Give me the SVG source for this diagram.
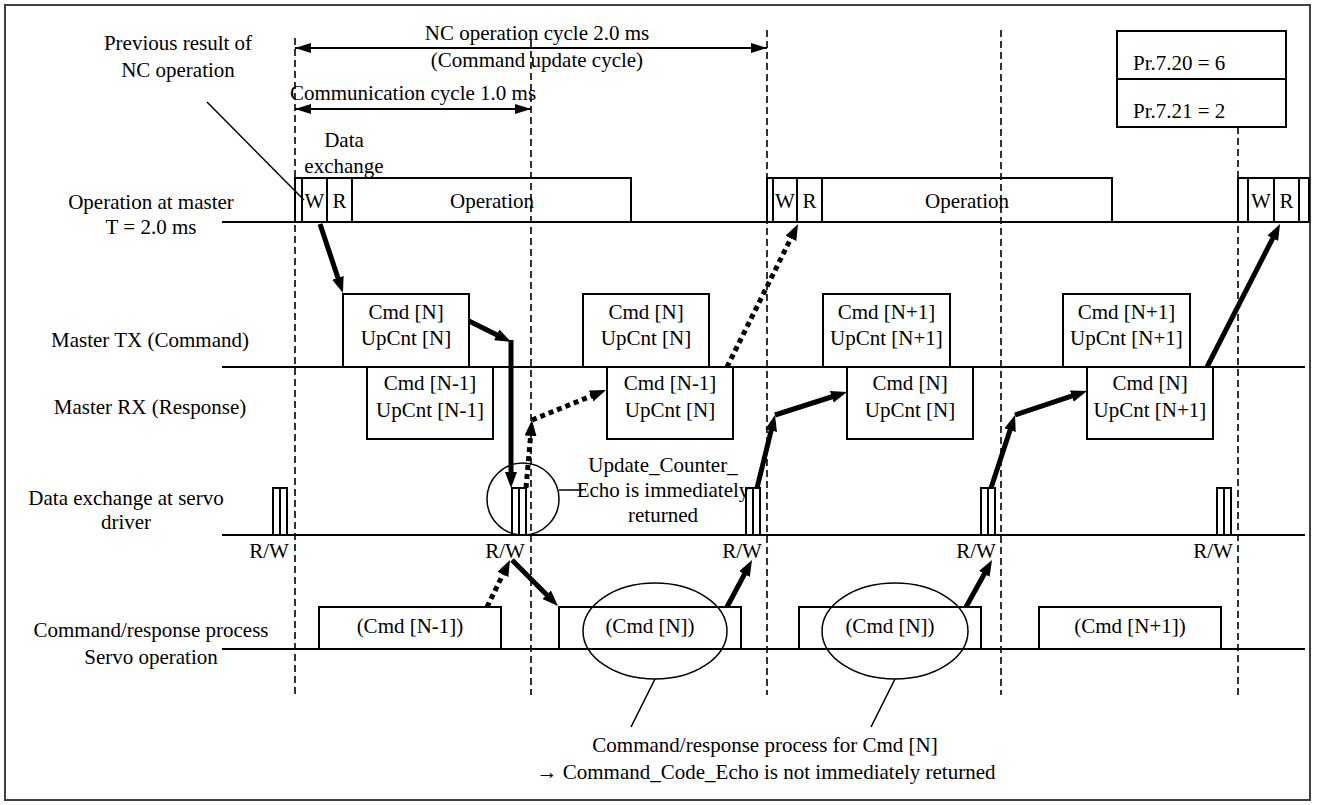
<svg xmlns="http://www.w3.org/2000/svg" width="1317" height="805" viewBox="0 0 1317 805">
<style>
text{font-family:"Liberation Serif","Times New Roman",serif;font-size:21px;fill:#000}
.m{text-anchor:middle}
.box{fill:#fff;stroke:#000;stroke-width:2}
.row{stroke:#000;stroke-width:2;fill:none}
.vd{stroke:#000;stroke-width:1.6;stroke-dasharray:7 4;fill:none}
.thick{stroke:#000;stroke-width:5;fill:none;marker-end:url(#ah)}
.dot{stroke:#000;stroke-width:5;fill:none;stroke-dasharray:5 4;marker-end:url(#ah)}
.dim{stroke:#000;stroke-width:2;fill:none;marker-start:url(#dh);marker-end:url(#dh)}
.thin{stroke:#000;stroke-width:1.5;fill:none}
</style>
<defs>
<marker id="ah" markerUnits="userSpaceOnUse" markerWidth="16" markerHeight="12" refX="6" refY="6" orient="auto"><path d="M0,0 L16,6 L0,12 z" fill="#000"/></marker>
<marker id="dh" markerUnits="userSpaceOnUse" markerWidth="16" markerHeight="10" refX="16" refY="5" orient="auto-start-reverse"><path d="M0,0 L16,5 L0,10 z" fill="#000"/></marker>
</defs>
<rect x="5" y="5" width="1305" height="795" fill="#fff" stroke="#404040" stroke-width="2"/>

<g id="gridlines">
<line class="row" x1="222" y1="222" x2="1309" y2="222"/>
<line class="row" x1="222" y1="367" x2="1305" y2="367"/>
<line class="row" x1="222" y1="535" x2="1305" y2="535"/>
<line class="row" x1="222" y1="649" x2="1305" y2="649"/>
</g>

<g id="labels">
<text class="m" x="178" y="50">Previous result of</text>
<text class="m" x="178" y="77">NC operation</text>
<text class="m" x="151" y="209">Operation at master</text>
<text class="m" x="151" y="234">T = 2.0 ms</text>
<text class="m" x="150" y="347">Master TX (Command)</text>
<text class="m" x="150" y="414">Master RX (Response)</text>
<text class="m" x="126" y="505">Data exchange at servo</text>
<text class="m" x="126" y="529">driver</text>
<text class="m" x="151" y="637">Command/response process</text>
<text class="m" x="151" y="664">Servo operation</text>
<text class="m" x="537" y="40">NC operation cycle 2.0 ms</text>
<text class="m" x="537" y="67">(Command update cycle)</text>
<text class="m" x="413" y="100">Communication cycle 1.0 ms</text>
<text class="m" x="344" y="147">Data</text>
<text class="m" x="344" y="173">exchange</text>
</g>

<g id="pr-box">
<rect class="box" x="1117" y="31" width="169" height="48"/>
<rect class="box" x="1117" y="79" width="169" height="48"/>
<text x="1133" y="70">Pr.7.20 = 6</text>
<text x="1133" y="118">Pr.7.21 = 2</text>
</g>

<g id="master-op-1">
<rect class="box" x="295" y="178" width="7" height="44"/>
<rect class="box" x="302" y="178" width="25" height="44"/>
<rect class="box" x="327" y="178" width="25" height="44"/>
<rect class="box" x="352" y="178" width="279" height="44"/>
<text class="m" x="314.5" y="208">W</text>
<text class="m" x="339.5" y="208">R</text>
<text class="m" x="492" y="208">Operation</text>
</g>
<g id="master-op-2">
<rect class="box" x="767" y="178" width="6" height="44"/>
<rect class="box" x="773" y="178" width="24" height="44"/>
<rect class="box" x="797" y="178" width="25" height="44"/>
<rect class="box" x="822" y="178" width="290" height="44"/>
<text class="m" x="785" y="208">W</text>
<text class="m" x="809.5" y="208">R</text>
<text class="m" x="967" y="208">Operation</text>
</g>
<g id="master-op-3">
<rect class="box" x="1238" y="178" width="10" height="44"/>
<rect class="box" x="1248" y="178" width="26" height="44"/>
<rect class="box" x="1274" y="178" width="25" height="44"/>
<rect class="box" x="1299" y="178" width="10" height="44"/>
<text class="m" x="1261" y="208">W</text>
<text class="m" x="1286.5" y="208">R</text>
</g>

<g id="tx-1"><rect class="box" x="343" y="294" width="126" height="73"/><text class="m" x="406" y="319">Cmd [N]</text><text class="m" x="406" y="345">UpCnt [N]</text></g>
<g id="tx-2"><rect class="box" x="583" y="294" width="126" height="73"/><text class="m" x="646" y="319">Cmd [N]</text><text class="m" x="646" y="345">UpCnt [N]</text></g>
<g id="tx-3"><rect class="box" x="823" y="294" width="127" height="73"/><text class="m" x="886.5" y="319">Cmd [N+1]</text><text class="m" x="886.5" y="345">UpCnt [N+1]</text></g>
<g id="tx-4"><rect class="box" x="1063" y="294" width="127" height="73"/><text class="m" x="1126.5" y="319">Cmd [N+1]</text><text class="m" x="1126.5" y="345">UpCnt [N+1]</text></g>

<g id="rx-1"><rect class="box" x="367" y="367" width="126" height="72"/><text class="m" x="430" y="390">Cmd [N-1]</text><text class="m" x="430" y="417">UpCnt [N-1]</text></g>
<g id="rx-2"><rect class="box" x="607" y="367" width="126" height="72"/><text class="m" x="670" y="390">Cmd [N-1]</text><text class="m" x="670" y="417">UpCnt [N]</text></g>
<g id="rx-3"><rect class="box" x="847" y="367" width="126" height="72"/><text class="m" x="910" y="390">Cmd [N]</text><text class="m" x="910" y="417">UpCnt [N]</text></g>
<g id="rx-4"><rect class="box" x="1087" y="367" width="126" height="72"/><text class="m" x="1150" y="390">Cmd [N]</text><text class="m" x="1150" y="417">UpCnt [N+1]</text></g>

<g id="servo-x1"><rect class="box" x="273" y="488" width="7" height="47"/><rect class="box" x="280" y="488" width="7" height="47"/><text class="m" x="269" y="558">R/W</text></g>
<g id="servo-x2"><rect class="box" x="512" y="488" width="7" height="47"/><rect class="box" x="519" y="488" width="7" height="47"/><text class="m" x="505" y="558">R/W</text></g>
<g id="servo-x3"><rect class="box" x="746" y="488" width="7" height="47"/><rect class="box" x="753" y="488" width="7" height="47"/><text class="m" x="742" y="558">R/W</text></g>
<g id="servo-x4"><rect class="box" x="981" y="488" width="7" height="47"/><rect class="box" x="988" y="488" width="7" height="47"/><text class="m" x="976" y="558">R/W</text></g>
<g id="servo-x5"><rect class="box" x="1217" y="488" width="7" height="47"/><rect class="box" x="1224" y="488" width="7" height="47"/><text class="m" x="1213" y="558">R/W</text></g>

<g id="proc-1"><rect class="box" x="319" y="607" width="182" height="42"/><text class="m" x="410" y="633">(Cmd [N-1])</text></g>
<g id="proc-2"><rect class="box" x="559" y="607" width="182" height="42"/><text class="m" x="650" y="633">(Cmd [N])</text></g>
<g id="proc-3"><rect class="box" x="799" y="607" width="182" height="42"/><text class="m" x="890" y="633">(Cmd [N])</text></g>
<g id="proc-4"><rect class="box" x="1039" y="607" width="182" height="42"/><text class="m" x="1130" y="633">(Cmd [N+1])</text></g>

<g id="dashed-cycles">
<line class="vd" x1="295" y1="38" x2="295" y2="695"/>
<line class="vd" x1="531" y1="40" x2="531" y2="695"/>
<line class="vd" x1="767" y1="30" x2="767" y2="695"/>
<line class="vd" x1="1001" y1="30" x2="1001" y2="695"/>
<line class="vd" x1="1238" y1="127" x2="1238" y2="695"/>
</g>

<g id="annotations">
<circle class="thin" cx="523" cy="499" r="36"/>
<line class="thin" x1="559" y1="490" x2="583" y2="490"/>
<text class="m" x="663" y="472">Update_Counter_</text>
<text class="m" x="663" y="497">Echo is immediately</text>
<text class="m" x="663" y="522">returned</text>
<ellipse class="thin" cx="655" cy="631" rx="72" ry="48"/>
<ellipse class="thin" cx="895" cy="631" rx="73" ry="48"/>
<line class="thin" x1="655" y1="679" x2="631" y2="727"/>
<line class="thin" x1="895" y1="679" x2="871" y2="727"/>
<text class="m" x="765" y="752">Command/response process for Cmd [N]</text>
<text class="m" x="766" y="779">→ Command_Code_Echo is not immediately returned</text>
<line class="thin" x1="207" y1="102" x2="304" y2="200"/>
</g>

<g id="connectors">
<line class="dim" x1="295" y1="48" x2="767" y2="48"/>
<line class="dim" x1="295" y1="109" x2="531" y2="109"/>
<line class="thick" x1="320" y1="224" x2="339.8" y2="283.5"/>
<line class="thick" x1="469" y1="321" x2="502.1" y2="337.5"/>
<line class="thick" x1="511" y1="340" x2="511" y2="478"/>
<line class="dot" x1="526" y1="488" x2="531.1" y2="430"/>
<line class="dot" x1="532" y1="420" x2="596.7" y2="393.8"/>
<line class="dot" x1="727" y1="367" x2="793.6" y2="233"/>
<line class="thick" x1="757" y1="488" x2="772.6" y2="424.7"/>
<line class="thick" x1="775" y1="415" x2="837.5" y2="395"/>
<line class="thick" x1="991" y1="488" x2="1011.9" y2="424.5"/>
<line class="thick" x1="1015" y1="415" x2="1077.5" y2="394.2"/>
<line class="thick" x1="1207" y1="367" x2="1275.5" y2="232.9"/>
<line class="dot" x1="487" y1="607" x2="505.6" y2="569"/>
<line class="thick" x1="512" y1="560" x2="550.9" y2="598.9"/>
<line class="thick" x1="727" y1="607" x2="747.3" y2="568.8"/>
<line class="thick" x1="966" y1="607" x2="987.2" y2="568.7"/>
</g>
</svg>
